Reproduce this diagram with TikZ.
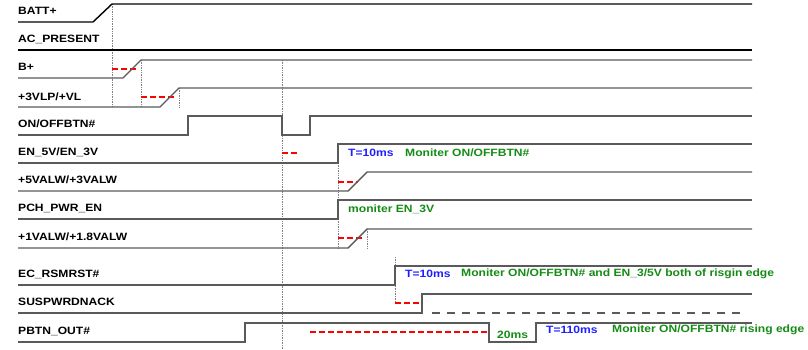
\documentclass[tikz,border=0pt]{standalone}
\usepackage{fontspec}
\setmainfont{Liberation Sans}[FakeStretch=1.14]
\definecolor{sigk}{RGB}{90,90,90}
\definecolor{grn}{RGB}{20,140,20}
\definecolor{blu}{RGB}{30,30,255}
\begin{document}
\begin{tikzpicture}[x=1bp,y=-1bp,
  lbl/.style={anchor=west,inner sep=0pt,font=\fontsize{10.6bp}{12bp}\selectfont\bfseries},
  note/.style={lbl,text=grn},
  tnote/.style={lbl,text=blu},
  sig/.style={draw=sigk,line width=1.4bp},
  sigb/.style={draw=black,line width=1.4bp},
  reddash/.style={draw=red,line width=2.2bp,dash pattern=on 6bp off 3bp},
  vguide/.style={draw=gray,line width=0.7bp,densely dotted},
  greydash/.style={draw=sigk,line width=1.4bp,dash pattern=on 8bp off 7bp}]
\useasboundingbox (0,0) rectangle (808,349);
% labels
\node[lbl] (l1) at (18,11) {BATT+};
\node[lbl] (l2) at (18,39) {AC\_PRESENT};
\node[lbl] (l3) at (18,67) {B+};
\node[lbl] (l4) at (18,97) {+3VLP/+VL};
\node[lbl] (l5) at (18,124) {ON/OFFBTN\#};
\node[lbl] (l6) at (18,152) {EN\_5V/EN\_3V};
\node[lbl] (l7) at (18,180) {+5VALW/+3VALW};
\node[lbl] (l8) at (18,208) {PCH\_PWR\_EN};
\node[lbl] (l9) at (18,237) {+1VALW/+1.8VALW};
\node[lbl] (l10) at (18,274) {EC\_RSMRST\#};
\node[lbl] (l11) at (18,302) {SUSPWRDNACK};
\node[lbl] (l12) at (18,331) {PBTN\_OUT\#};
% guides
\draw[vguide] (112,4) -- (112,107);
\draw[vguide] (141,60) -- (141,107);
\draw[vguide] (179,88) -- (179,107);
\draw[vguide] (282,60) -- (282,349);
\draw[vguide] (338,163) -- (338,248);
\draw[vguide] (367,229) -- (367,248);
\draw[vguide] (395,257) -- (395,303);
% red dashes
\draw[reddash] (112,69) -- (139,69);
\draw[reddash] (141,97) -- (176,97);
\draw[reddash] (282,153) -- (298,153);
\draw[reddash] (338,182) -- (358,182);
\draw[reddash] (338,238) -- (365,238);
\draw[reddash] (395,303) -- (422,303);
\draw[reddash] (310,332) -- (489,332);
% signals
\draw[sig] (18,22) -- (93,22);
\draw[sigb] (93,22) -- (112,4) -- (752,4);
\draw[sigb] (18,50) -- (752,50);
\draw[sig] (18,78) -- (123,78) -- (141,60) -- (752,60);
\draw[sig] (18,107) -- (160,107) -- (179,88) -- (752,88);
\draw[sig] (18,135) -- (188,135) -- (188,116) -- (282,116) -- (282,135) -- (310,135) -- (310,116) -- (752,116);
\draw[sig] (18,163) -- (338,163) -- (338,144) -- (752,144);
\draw[sig] (18,191) -- (348,191) -- (367,172) -- (752,172);
\draw[sig] (18,219) -- (338,219) -- (338,200) -- (752,200);
\draw[sig] (18,248) -- (348,248) -- (367,229) -- (752,229);
\draw[sig] (18,285) -- (395,285) -- (395,266) -- (752,266);
\draw[sig] (18,313) -- (422,313) -- (422,294) -- (752,294);
\draw[greydash] (432,313) -- (743,313);
\draw[sig] (18,342) -- (245,342) -- (245,323) -- (489,323) -- (489,342) -- (536,342) -- (536,323) -- (752,323);
% notes
\node[tnote] (n1) at (348,153) {T=10ms};
\node[note] (n2) at (405,153) {Moniter ON/OFFBTN\#};
\node[note] (n3) at (348,209) {moniter EN\_3V};
\node[tnote] (n4) at (405,274) {T=10ms};
\node[note] (n5) at (461,274) {Moniter ON/OFFBTN\# and EN\_3/5V both of risgin edge};
\node[note] (n6) at (497,335) {20ms};
\node[tnote] (n7) at (546,330) {T=110ms};
\node[note] (n8) at (612,330) {Moniter ON/OFFBTN\# rising edge};
\end{tikzpicture}
\end{document}
